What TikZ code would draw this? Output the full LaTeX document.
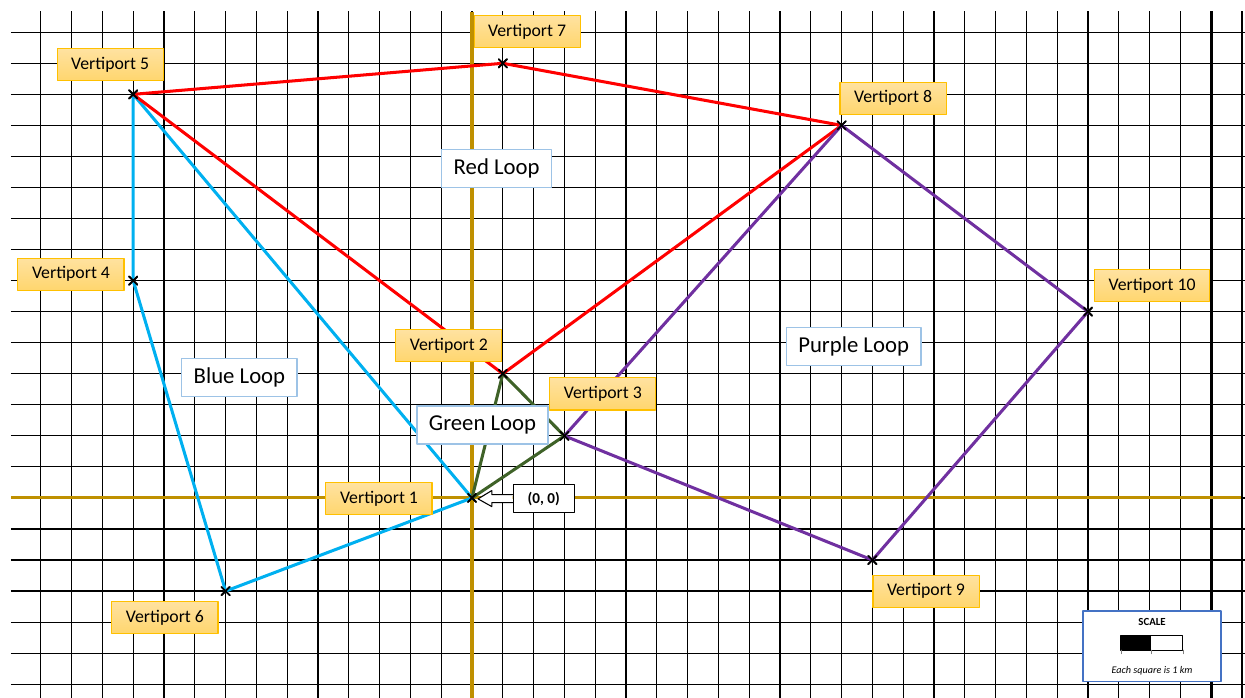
\documentclass[tikz,border=0pt]{standalone}
\usepackage{fontspec}
\setmainfont{Carlito}
\usepackage{tikz}
\usetikzlibrary{calc,shapes.misc}
\definecolor{loopred}{HTML}{FF0000}
\definecolor{loopblue}{HTML}{00B0F0}
\definecolor{loopgreen}{HTML}{3F6228}
\definecolor{looppurple}{HTML}{7030A0}
\definecolor{axisgold}{HTML}{BF9000}
\definecolor{labtop}{HTML}{FFE2A0}
\definecolor{labbot}{HTML}{FFD66E}
\definecolor{labedge}{HTML}{FFC000}
\definecolor{boxedge}{HTML}{9DC3E6}
\definecolor{scaleedge}{HTML}{4472C4}
\tikzset{
    portlab/.style={
        draw=labedge, top color=labtop, bottom color=labbot, line width=0.5pt,
        font=\fontsize{8.2}{10}\selectfont,
        inner xsep=6.5pt, minimum height=0.52cm
    },
    looplab/.style={
        draw=boxedge, fill=white, line width=0.6pt,
        font=\fontsize{10.5}{12}\selectfont,
        inner xsep=5.5pt, minimum height=0.62cm
    },
    port/.style={
        cross out, draw=black, line width=0.8pt, minimum size=3pt, inner sep=0pt
    },
    route/.style={
        line width=1.4pt
    }
}

\begin{document}
\begin{tikzpicture}[x=0.5cm,y=0.504cm, line cap=round, line join=round]

\useasboundingbox (-15.325,-6.441) rectangle (25.097,16.039);

\def\gxl{-14.97}
\def\gxr{25.1}
\def\gyt{15.68}
\def\gyb{-6.45}

% grid, one square is 1 km
\foreach \x in {-14,...,25} {
  \draw[line width=0.55pt, line cap=butt] (\x,\gyt) -- (\x,\gyb);
}
\foreach \y in {-6,...,15} {
  \draw[line width=0.55pt, line cap=butt] (\gxl,\y) -- (\gxr,\y);
}
\draw[line width=1.5pt, line cap=butt] (24,\gyt) -- (24,\gyb);

% axes
\draw[axisgold, line width=1.4pt, line cap=butt] (\gxl,0) -- (24.98,0);
\draw[axisgold, line width=1.4pt, line cap=butt] (0,15.64) -- (0,\gyb);

% vertiports
\node[port] (v1) at (0,0) {};
\node[port] (v2) at (1,4) {};
\node[port] (v3) at (3,2) {};
\node[port] (v4) at (-11,7) {};
\node[port] (v5) at (-11,13) {};
\node[port] (v6) at (-8,-3) {};
\node[port] (v7) at (1,14) {};
\node[port] (v8) at (12,12) {};
\node[port] (v9) at (13,-2) {};
\node[port] (v10) at (20,6) {};

% Blue loop: 5-4-6-1
\draw[route, loopblue] (v5.center) -- (v4.center) -- (v6.center) -- (v1.center) -- cycle;

% Red loop: 5-7-8-2
\draw[route, loopred] (v5.center) -- (v7.center) -- (v8.center) -- (v2.center) -- cycle;

% Green loop: 1-2-3
\draw[route, loopgreen] (v1.center) -- (v2.center) -- (v3.center) -- cycle;

% Purple loop: 3-8-10-9
\draw[route, looppurple] (v3.center) -- (v8.center) -- (v10.center) -- (v9.center) -- cycle;

% crosses back on top
\foreach \p in {v1,v2,v3,v4,v5,v6,v7,v8,v9,v10} {
  \node[port] at (\p) {};
}

% labels
\node[portlab] (l1) at (-3.02,-0.03) {Vertiport 1};
\node[portlab] (l2) at (-0.75,4.90) {Vertiport 2};
\node[portlab] (l3) at (4.25,3.35) {Vertiport 3};
\node[portlab] (l4) at (-13.02,7.21) {Vertiport 4};
\node[portlab] (l5) at (-11.75,13.95) {Vertiport 5};
\node[portlab] (l6) at (-9.97,-3.85) {Vertiport 6};
\node[portlab] (l7) at (1.79,15.02) {Vertiport 7};
\node[portlab] (l8) at (13.67,12.88) {Vertiport 8};
\node[portlab] (l9) at (14.74,-3.0) {Vertiport 9};
\node[portlab] (l10) at (22.08,6.83) {Vertiport 10};

\node[looplab] (redloop) at (0.80,10.61) {Red Loop};
\node[looplab] (blueloop) at (-7.55,3.88) {Blue Loop};
\node[looplab] (greenloop) at (0.34,2.35) {Green Loop};
\node[looplab] (purpleloop) at (12.39,4.88) {Purple Loop};

% origin callout
\node[draw=black, fill=white, line width=0.5pt, minimum width=0.99cm, minimum height=0.44cm,
      font=\bfseries\fontsize{7}{8}\selectfont] (orig) at (2.33,-0.02) {(0, 0)};
\coordinate (otip) at (0.195,-0.03);
\draw[fill=white, line width=0.5pt]
  ($(orig.west)+(0,0.065cm)$) -- ++(-0.34cm,0) -- ++(0,0.065cm) -- (otip)
  -- ($(orig.west)+(-0.34cm,-0.13cm)$) -- ++(0,0.065cm) -- ($(orig.west)+(0,-0.065cm)$);

% scale box
\node[draw=scaleedge, fill=white, line width=0.6pt, minimum width=2.24cm, minimum height=1.15cm] (scale) at (22.08,-4.78) {};
\node[font=\bfseries\fontsize{5}{6}\selectfont] (scaletitle) at (22.08,-4.0) {SCALE};
\fill[black] (21.07,-4.44) rectangle (22.05,-4.90);
\draw[line width=0.5pt] (21.07,-4.44) rectangle (23.08,-4.90);
\foreach \x in {21.07,22.05,23.08} {
  \draw[line width=0.3pt, gray] (\x,-4.90) -- (\x,-5.02);
}
\node[font=\itshape\fontsize{4.7}{6}\selectfont] (scalenote) at (22.08,-5.57) {Each square is 1 km};

\end{tikzpicture}
\end{document}
